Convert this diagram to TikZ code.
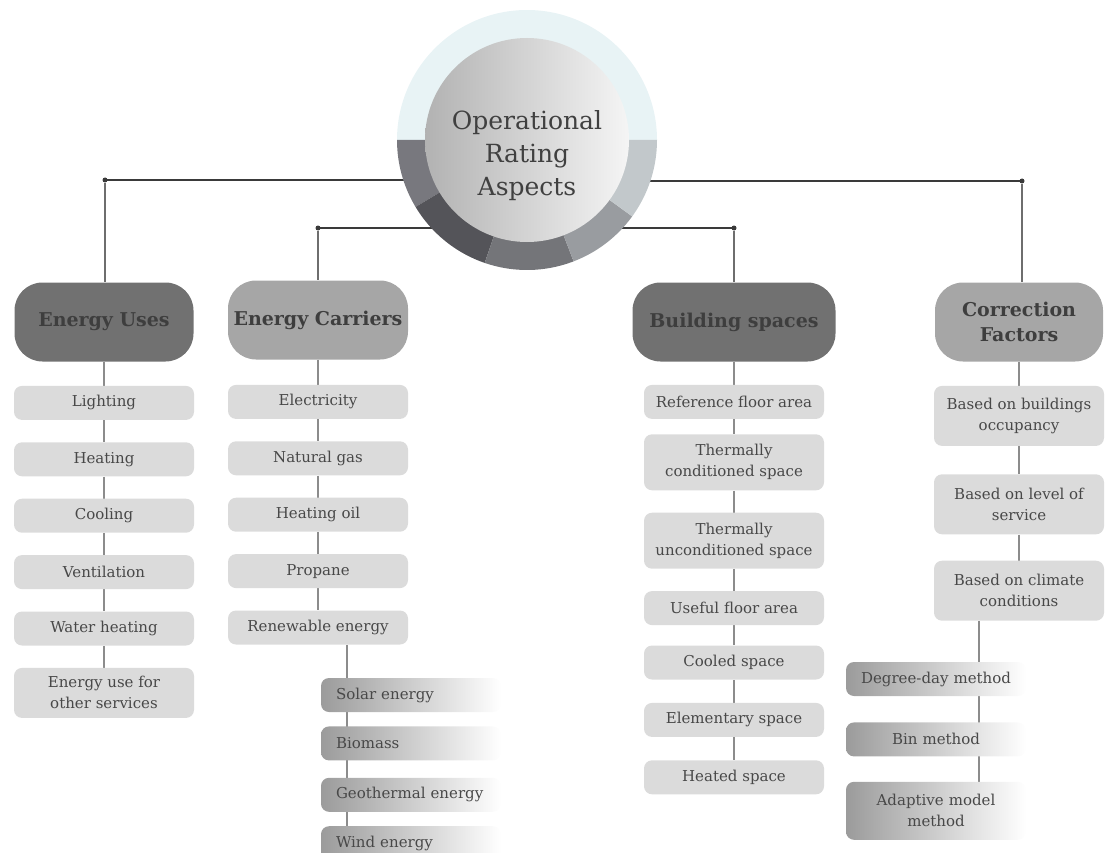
\documentclass[tikz,border=0pt]{standalone}
\usepackage{xcolor}
\usepackage{fontspec}
\setmainfont{DejaVu Serif}
\usepackage{tikz}
\usetikzlibrary{positioning, backgrounds, calc}
\definecolor{ringtop}{RGB}{232,243,245}
\definecolor{ringa}{RGB}{120,120,126}
\definecolor{ringb}{RGB}{84,84,89}
\definecolor{ringc}{RGB}{116,117,121}
\definecolor{ringd}{RGB}{153,156,160}
\definecolor{ringe}{RGB}{194,200,203}
\definecolor{hubleft}{RGB}{178,178,178}
\definecolor{hubright}{RGB}{245,245,245}
\definecolor{hubtext}{RGB}{64,64,64}
\definecolor{headdark}{RGB}{113,113,113}
\definecolor{headlight}{RGB}{166,166,166}
\definecolor{headtext}{RGB}{62,62,62}
\definecolor{itemgray}{RGB}{219,219,219}
\definecolor{itemtext}{RGB}{72,72,72}
\definecolor{fadegray}{RGB}{155,155,155}
\definecolor{linkdark}{RGB}{58,58,58}
\definecolor{linkmid}{RGB}{110,110,110}
\definecolor{linkgray}{RGB}{140,140,140}
\tikzset{
  itembox/.style={
    rectangle, rounded corners=8pt,
    minimum width=180pt, minimum height=34pt,
    align=center, inner sep=3pt,
    fill=itemgray, text=itemtext,
    font=\fontsize{15pt}{21pt}\selectfont
  },
  tallbox/.style={itembox, minimum height=56pt},
  headbox/.style={
    rectangle, rounded corners=28pt,
    minimum width=180pt, minimum height=79pt,
    align=center, inner sep=3pt, text=headtext,
    font=\fontsize{19pt}{25pt}\selectfont\bfseries
  },
  darkhead/.style={headbox, fill=headdark},
  lighthead/.style={headbox, fill=headlight},
  fadebox/.style={
    rectangle, rounded corners=8pt,
    left color=fadegray, right color=white,
    text width=150pt, inner xsep=15pt, inner ysep=3pt,
    minimum height=34pt, text=itemtext,
    font=\fontsize{15pt}{21pt}\selectfont
  },
  hubtext/.style={
    align=center, text=hubtext,
    font=\fontsize{25pt}{33pt}\selectfont
  },
  joint/.style={circle, fill=linkdark, inner sep=0pt, minimum size=5pt},
  toplink/.style={draw=linkdark, line width=1.1pt},
  droplink/.style={draw=linkmid, line width=1.3pt},
  link/.style={draw=linkgray, line width=1.4pt}
}

\begin{document}
\begin{tikzpicture}[x=1pt, y=1pt, node distance=22pt]

  \useasboundingbox (0,0) rectangle (1105,-853);

  % Hub ring and disc
  \coordinate (hubc) at (527,-140);
  \fill[ringtop] (hubc) -- ++(0:130pt) arc[start angle=0, end angle=180, radius=130pt] -- cycle;
  \fill[ringa] (hubc) -- ++(180:130pt) arc[start angle=180, end angle=211, radius=130pt] -- cycle;
  \fill[ringb] (hubc) -- ++(211:130pt) arc[start angle=211, end angle=251, radius=130pt] -- cycle;
  \fill[ringc] (hubc) -- ++(251:130pt) arc[start angle=251, end angle=291, radius=130pt] -- cycle;
  \fill[ringd] (hubc) -- ++(291:130pt) arc[start angle=291, end angle=324, radius=130pt] -- cycle;
  \fill[ringe] (hubc) -- ++(324:130pt) arc[start angle=324, end angle=360, radius=130pt] -- cycle;
  \shade[left color=hubleft, right color=hubright] (hubc) circle[radius=102pt];
  \node[hubtext] (hub) at (527,-156) {Operational\\Rating\\Aspects};

  % Joints
  \node[joint] (jUses) at (105,-180) {};
  \node[joint] (jCarr) at (318,-228) {};
  \node[joint] (jBuild) at (734,-228) {};
  \node[joint] (jCorr) at (1022,-181) {};

  % Headers
  \node[darkhead, minimum width=179pt] (uses) at (104,-322) {Energy Uses};
  \node[lighthead] (carr) at (318,-320) {Energy Carriers};
  \node[darkhead, minimum width=203pt] (build) at (734,-322) {Building spaces};
  \node[lighthead, minimum width=168pt] (corr) at (1019,-322) {Correction\\Factors};

  % Column 1
  \node[itembox, below=24pt of uses] (light) {Lighting};
  \node[itembox, below=of light] (heat) {Heating};
  \node[itembox, below=of heat] (cool) {Cooling};
  \node[itembox, below=of cool] (vent) {Ventilation};
  \node[itembox, below=of vent] (water) {Water heating};
  \node[tallbox, minimum height=50pt, below=of water] (other) {Energy use for\\other services};

  % Column 2
  \node[itembox, below=25pt of carr] (elec) {Electricity};
  \node[itembox, below=of elec] (gas) {Natural gas};
  \node[itembox, below=of gas] (oil) {Heating oil};
  \node[itembox, below=of oil] (prop) {Propane};
  \node[itembox, below=of prop] (ren) {Renewable energy};

  % Renewable sources
  \node[fadebox, align=left] (solar) at (411,-695) {Solar energy};
  \node[fadebox, align=left, below=14pt of solar] (bio) {Biomass};
  \node[fadebox, align=left, below=17pt of bio] (geo) {Geothermal energy};
  \node[fadebox, align=left, below=14pt of geo] (wind) {Wind energy};

  % Column 3
  \node[itembox, below=23pt of build] (ref) {Reference floor area};
  \node[tallbox, below=15pt of ref] (tcond) {Thermally\\conditioned space};
  \node[tallbox, below=of tcond] (tunc) {Thermally\\unconditioned space};
  \node[itembox, below=of tunc] (useful) {Useful floor area};
  \node[itembox, below=20pt of useful] (cooled) {Cooled space};
  \node[itembox, below=23pt of cooled] (elem) {Elementary space};
  \node[itembox, below=23pt of elem] (heated) {Heated space};

  % Column 4
  \node[tallbox, minimum width=170pt, minimum height=60pt, below=24pt of corr] (occ) {Based on buildings\\occupancy};
  \node[tallbox, minimum width=170pt, minimum height=60pt, below=28pt of occ] (serv) {Based on level of\\service};
  \node[tallbox, minimum width=170pt, minimum height=60pt, below=26pt of serv] (clim) {Based on climate\\conditions};

  % Correction methods
  \node[fadebox, align=center] (degree) at (936,-679) {Degree-day method};
  \node[fadebox, align=center, below=26pt of degree] (bin) {Bin method};
  \node[fadebox, align=center, minimum height=58pt, below=25pt of bin] (adapt) {Adaptive model\\method};

  \coordinate (jRen) at ([xshift=29pt]ren.south);
  \coordinate (jClim) at ([xshift=-40pt]clim.south);

  \begin{scope}[on background layer]
    % Hub to headers
    \draw[toplink] (jUses.center) -- (jUses -| hubc);
    \draw[toplink] (jCarr.center) -- (jCarr -| hubc);
    \draw[toplink] (jBuild.center) -- (jBuild -| hubc);
    \draw[toplink] (jCorr.center) -- (jCorr -| hubc);
    \draw[droplink] (jUses) -- (jUses |- uses.north);
    \draw[droplink] (jCarr) -- (carr);
    \draw[droplink] (jBuild) -- (build);
    \draw[droplink] (jCorr) -- (jCorr |- corr.north);
    % Columns
    \draw[link] (uses) -- (light) -- (heat) -- (cool) -- (vent) -- (water) -- (other);
    \draw[link] (carr) -- (elec) -- (gas) -- (oil) -- (prop) -- (ren);
    \draw[link] (build) -- (ref) -- (tcond) -- (tunc) -- (useful) -- (cooled) -- (elem) -- (heated);
    \draw[link] (corr) -- (occ) -- (serv) -- (clim);
    % Sub-branches
    \draw[link] (jRen) -- (jRen |- wind.center);
    \draw[link] (jClim) -- (jClim |- adapt.center);
  \end{scope}

\end{tikzpicture}
\end{document}
